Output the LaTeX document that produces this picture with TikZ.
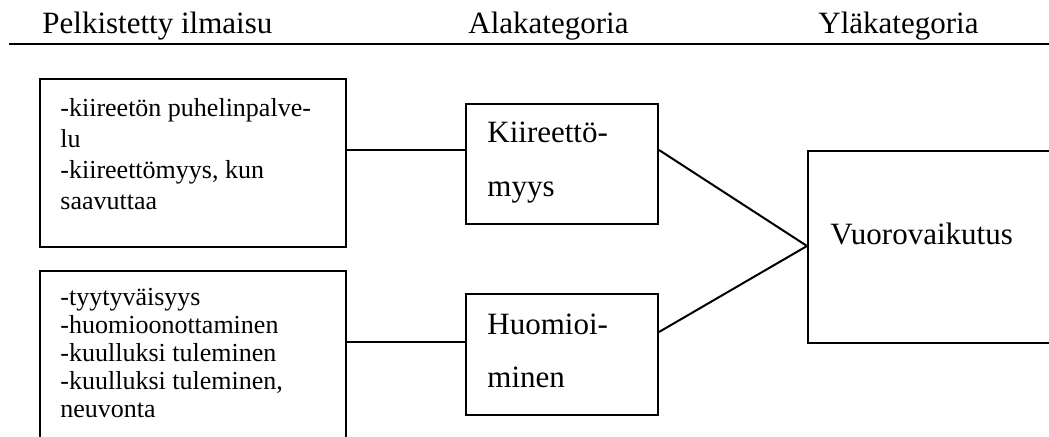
\documentclass[tikz,border=0pt]{standalone}
\usepackage{fontspec}
\setmainfont{Liberation Serif}
\begin{document}
\begin{tikzpicture}[x=0.5pt,y=-0.5pt,
  box/.style={draw, line width=1pt, rectangle, inner sep=0pt, anchor=north west},
  small/.style={anchor=base west, inner sep=0pt, font=\fontsize{13}{15}\selectfont},
  large/.style={anchor=base west, inner sep=0pt, font=\fontsize{15.5}{18}\selectfont},
  wire/.style={line width=1pt}]
\useasboundingbox (0,0) rectangle (1049,437);
\clip (0,0) rectangle (1049,437);

% column headings and rule
\node[large] (h1) at (42,34) {Pelkistetty ilmaisu};
\node[large] (h2) at (468,34) {Alakategoria};
\node[large] (h3) at (818,34) {Yläkategoria};
\coordinate (rl) at (9,44);
\coordinate (rr) at (1060,44);
\draw[wire] (rl) -- (rr);

% reduced expressions
\node[box, minimum width=153pt, minimum height=84pt] (b1) at (39,78) {};
\node[small] (b1a) at (60,117) {-kiireetön puhelinpalve-};
\node[small] (b1b) at (60,148) {lu};
\node[small] (b1c) at (60,179) {-kiireettömyys, kun};
\node[small] (b1d) at (60,210) {saavuttaa};

\node[box, minimum width=153pt, minimum height=100pt] (b2) at (39,270) {};
\node[small] (b2a) at (60,306) {-tyytyväisyys};
\node[small] (b2b) at (60,334) {-huomioonottaminen};
\node[small] (b2c) at (60,362) {-kuulluksi tuleminen};
\node[small] (b2d) at (60,390) {-kuulluksi tuleminen,};
\node[small] (b2e) at (60,418) {neuvonta};

% subcategories
\node[box, minimum width=96pt, minimum height=60pt] (k) at (465,103) {};
\node[large] (ka) at (487,143) {Kiireettö-};
\node[large] (kb) at (487,197) {myys};

\node[box, minimum width=96pt, minimum height=60.5pt] (h) at (465,293) {};
\node[large] (ha) at (487,335) {Huomioi-};
\node[large] (hb) at (487,388) {minen};

% main category
\node[box, minimum width=140pt, minimum height=96pt] (v) at (807,150) {};
\node[large] (va) at (830,245) {Vuorovaikutus};

% connectors
\coordinate (y1) at (0,150);
\coordinate (y2) at (0,342);
\coordinate (y3) at (0,332);
\coordinate (yv) at (0,246);
\draw[wire] (b1.east |- y1) -- (k.west |- y1);
\draw[wire] (b2.east |- y2) -- (h.west |- y2);
\draw[wire] (k.east |- y1) -- (v.west |- yv);
\draw[wire] (h.east |- y3) -- (v.west |- yv);
\end{tikzpicture}
\end{document}
